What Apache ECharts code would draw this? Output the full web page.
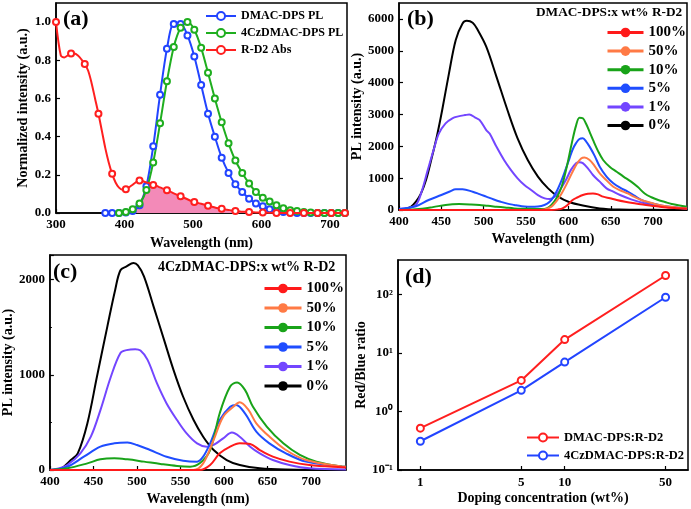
<!DOCTYPE html>
<html><head><meta charset="utf-8">
<script src="https://cdn.jsdelivr.net/npm/echarts@6/dist/echarts.min.js"></script>
<style>html,body{margin:0;padding:0;background:#fff}#c{width:691px;height:509px}</style>
</head><body><div id="c"></div>
<script>
// ---------- Panel (a) ----------
const aBlueX = [372,382,392,402,412,422,432,442,452,462,472,482,492,502,512,522,532,542,552,562,572,582,592,602,612,622,632,642,652,662,672,682,692,702,712,722];
const aBlueY = [0,0,0,0.003,0.01,0.04,0.14,0.35,0.62,0.86,0.99,0.99,0.93,0.82,0.67,0.52,0.40,0.29,0.21,0.15,0.11,0.075,0.05,0.035,0.02,0.01,0.005,0.002,0,0,0,0,0,0,0,0];
const aGreenX = [392,402,412,422,432,442,452,462,472,482,492,502,512,522,532,542,552,562,572,582,592,602,612,622,632,642,652,662,672,682,692,702,712,722];
const aGreenY = [0,0.005,0.02,0.05,0.12,0.265,0.47,0.69,0.87,0.97,1.0,0.96,0.865,0.735,0.60,0.475,0.365,0.275,0.21,0.155,0.11,0.08,0.06,0.04,0.025,0.015,0.01,0.005,0.003,0,0,0,0,0];
const aRedX = [300,307,312,317,322,327,332,337,342,347,352,357,362,367,372,377,382,387,392,397,402,407,412,417,422,427,432,437,442,447,452,457,462,467,472,477,482,487,492,497,502,507,512,517,522,527,532,537,542,547,552,557,562,567,572,577,582,587,592,597,602,607,612,617,622,627,632,637,642,647,652,657,662,667,672,677,682,687,692,697,702,707,712,717,722];
const aRedY = [1.0,0.825,0.815,0.825,0.835,0.835,0.825,0.805,0.78,0.745,0.68,0.60,0.52,0.43,0.34,0.265,0.205,0.16,0.133,0.122,0.125,0.135,0.148,0.162,0.17,0.166,0.16,0.155,0.147,0.142,0.134,0.127,0.119,0.112,0.103,0.095,0.088,0.08,0.072,0.064,0.058,0.053,0.048,0.043,0.038,0.034,0.029,0.025,0.022,0.019,0.016,0.013,0.011,0.009,0.007,0.006,0.005,0.004,0.003,0.003,0.002,0.002,0.001,0.001,0,0,0,0,0,0,0,0,0,0,0,0,0,0,0,0,0,0,0,0,0];
const aFillX = [408,413,418,423,428,432,440,450,460,470,480,490,500,510,520,530,540,550,560,570,580,600,620];
const aFillY = [0,0.01,0.03,0.06,0.11,0.155,0.148,0.135,0.12,0.105,0.09,0.075,0.06,0.05,0.04,0.03,0.023,0.017,0.012,0.008,0.005,0.003,0];

// ---------- Panel (b) ----------
const bNames = ['100%','50%','10%','5%','1%','0%'];
const b100X = [400,580,588,593,599,605,611,617,623,629,635,641,649,657,667,678,688,698,710,725,740];
const b100Y = [0,0,20,50,160,315,400,470,510,520,490,420,370,315,260,210,170,135,95,60,40];
const b50X = [400,560,572,580,586,592,598,604,610,615,619,625,631,637,645,653,661,670,678,686,694,702,715,740];
const b50Y = [0,0,20,105,280,520,820,1150,1450,1620,1650,1570,1380,1150,930,730,620,520,410,315,250,190,120,50];
const b10X = [400,420,440,455,471,485,495,505,515,525,536,550,568,575,580,586,592,598,604,609,613,617,621,625,629,635,641,649,657,665,674,682,690,698,706,714,722,740];
const b10Y = [0,20,90,160,185,175,160,130,105,80,50,40,30,60,160,380,730,1350,2100,2650,2900,2880,2700,2450,2200,1850,1570,1350,1200,1050,890,720,520,400,315,250,190,100];
const b5X = [400,420,435,450,460,467,475,487,495,503,512,520,528,536,545,552,560,568,575,580,586,592,597,601,605,609,613,617,621,625,631,637,645,653,661,670,678,686,694,702,715,740];
const b5Y = [30,120,315,470,580,650,650,575,500,420,330,260,200,160,120,105,100,125,200,315,580,940,1300,1600,1900,2100,2230,2250,2150,1990,1700,1360,1050,840,700,580,450,315,240,190,120,50];
const b1X = [400,410,420,427,434,441,447,455,463,470,478,483,490,495,503,507,515,524,532,540,548,556,564,572,578,584,590,597,603,609,613,617,623,629,637,645,653,661,674,690,706,730,740];
const b1Y = [30,60,160,600,1260,1900,2400,2720,2880,2940,2980,3000,2900,2830,2510,2400,1990,1570,1260,995,785,628,470,365,345,420,630,940,1260,1470,1500,1470,1310,1100,890,680,575,470,335,210,125,63,45];
const b0X = [400,405,414,420,426,432,438,445,451,459,467,475,480,487,493,503,515,528,540,552,564,576,588,600,617,637,660,700,740];
const b0Y = [0,20,100,260,520,950,1570,2350,3140,4290,5340,5860,5940,5880,5650,5130,4190,3140,2250,1570,1050,680,420,260,140,50,15,5,0];

// ---------- Panel (c) ----------
const c100X = [400,572,584,595,607,618,630,641,656,675,698,736,740];
const c100Y = [0,0,53,175,246,281,274,210,140,88,53,28,27];
const c50X = [400,565,576,588,599,611,618,628,637,652,671,694,736,740];
const c50Y = [0,0,70,316,561,667,712,632,491,351,210,105,35,33];
const c10X = [400,420,443,458,474,489,508,527,546,561,572,584,595,607,615,624,633,649,668,687,706,736,740];
const c10Y = [0,18,70,112,123,112,88,63,42,35,70,210,597,877,920,842,667,456,280,158,88,35,33];
const c5X = [400,420,439,458,474,489,500,515,534,553,569,576,584,595,607,614,624,637,652,671,694,736,740];
const c5Y = [0,35,140,245,280,288,263,210,140,98,88,140,280,525,665,684,595,403,280,175,88,35,33];
const c1X = [400,410,420,435,447,458,470,481,488,498,504,512,523,534,546,557,569,580,588,599,609,618,630,641,656,675,698,740];
const c1Y = [0,15,53,175,350,630,980,1230,1260,1270,1255,1160,910,700,525,385,280,245,263,333,393,350,245,175,105,53,18,5];
const c0X = [400,413,424,432,443,454,466,475,481,488,496,501,508,519,531,542,553,565,576,588,603,618,641,670,740];
const c0Y = [0,18,105,175,490,980,1510,1895,2100,2140,2175,2150,2035,1720,1370,1050,770,525,350,210,105,53,18,5,0];

// ---------- Panel (d) ----------
const dConc = [1,5,10,50];
const dDMAC = [0.52,3.4,17,212];
const d4Cz = [0.31,2.3,7.0,90];
const dXTicks = [1,5,10,50];

const FONT = "'Liberation Serif','Times New Roman',serif";
const zip = (xs, ys) => xs.map((x,i)=>[x, ys[i]]);
const txt = (size) => ({fontFamily: FONT, fontWeight: 'bold', fontSize: size, color: '#000'});

const colB = {'100%':'#ff1a1a','50%':'#ff7a45','10%':'#19a319','5%':'#1f4dff','1%':'#7346ff','0%':'#000000'};

function valAxis(gi, min, max, interval, name, gap, extra) {
  return Object.assign({
    type: 'value', gridIndex: gi, min, max, interval,
    name, nameLocation: 'middle', nameGap: gap, nameTextStyle: txt(14),
    axisLine: {show: true, lineStyle: {color: '#000', width: 1.5}},
    axisTick: {show: true, inside: true, length: 4, lineStyle: {color: '#000', width: 1.2}},
    axisLabel: Object.assign(txt(13), {showMaxLabel: false, margin: 5, formatter: v => String(v)}),
    splitLine: {show: false}
  }, extra || {});
}

const grids = [
  {left: 56, top: 3, width: 291, height: 210},
  {left: 399, top: 3, width: 288, height: 207},
  {left: 49, top: 255, width: 297, height: 215},
  {left: 398, top: 260, width: 290, height: 210}
].map(g => Object.assign({show: true, borderColor: '#000', borderWidth: 1.5, backgroundColor: 'transparent'}, g));

const xAxes = [
  valAxis(0, 300, 725, 100, 'Wavelength (nm)', 23),
  valAxis(1, 400, 740, 50, 'Wavelength (nm)', 22),
  valAxis(2, 400, 740, 50, 'Wavelength (nm)', 22),
  {
    type: 'log', gridIndex: 3, logBase: 10, min: 0.7, max: 71.5,
    name: 'Doping concentration (wt%)', nameLocation: 'middle', nameGap: 21, nameTextStyle: txt(14),
    axisLine: {show: true, lineStyle: {color: '#000', width: 1.5}},
    axisTick: {show: true, inside: true, length: 4, customValues: dXTicks, lineStyle: {color: '#000', width: 1.2}},
    axisLabel: Object.assign(txt(13), {customValues: dXTicks, margin: 6}),
    splitLine: {show: false}
  }
];
const supMap = {'-':'\u207B','0':'\u2070','1':'\u00B9','2':'\u00B2','3':'\u00B3'};
const yAxes = [
  valAxis(0, 0, 1.1, 0.2, 'Normalized intensity (a.u.)', 26, {axisLabel: Object.assign(txt(13), {showMaxLabel: false, margin: 5, formatter: v => v.toFixed(1)})}),
  valAxis(1, 0, 6500, 1000, 'PL intensity (a.u.)', 28),
  valAxis(2, 0, 2260, 1000, 'PL intensity (a.u.)', 32, {minorTick: {show: true, splitNumber: 2, length: 2, lineStyle: {color: '#000'}}}),
  {
    type: 'log', gridIndex: 3, logBase: 10, min: 0.1, max: 390, interval: 1,
    name: 'Red/Blue ratio', nameLocation: 'middle', nameGap: 25, nameTextStyle: txt(14),
    axisLine: {show: true, lineStyle: {color: '#000', width: 1.5}},
    axisTick: {show: true, inside: true, length: 4, lineStyle: {color: '#000', width: 1.2}},
    axisLabel: Object.assign(txt(13), {showMaxLabel: false, margin: 5, formatter: v => {
      const e = String(Math.round(Math.log10(v)));
      return '10' + e.split('').map(ch => supMap[ch]).join('');
    }}),
    splitLine: {show: false}
  }
];

const series = [];
// (a)
series.push({name: 'overlap', type: 'line', xAxisIndex: 0, yAxisIndex: 0, data: zip(aFillX, aFillY), symbol: 'none', smooth: 0.3,
  lineStyle: {width: 0}, areaStyle: {color: '#f38ab8', opacity: 1}, z: 1, silent: true});
series.push({name: 'DMAC-DPS PL', type: 'line', xAxisIndex: 0, yAxisIndex: 0, data: zip(aBlueX, aBlueY), smooth: 0.3,
  symbol: 'emptyCircle', symbolSize: 6, color: '#2244ff', lineStyle: {width: 2}, itemStyle: {borderWidth: 1.5}, z: 3});
series.push({name: '4CzDMAC-DPS PL', type: 'line', xAxisIndex: 0, yAxisIndex: 0, data: zip(aGreenX, aGreenY), smooth: 0.3,
  symbol: 'emptyCircle', symbolSize: 6, color: '#1fae1f', lineStyle: {width: 2}, itemStyle: {borderWidth: 1.5}, z: 3});
series.push({name: 'R-D2 Abs', type: 'line', xAxisIndex: 0, yAxisIndex: 0, smooth: 0.3,
  data: aRedX.map((x,i) => ({value: [x, aRedY[i]], symbol: i % 4 === 0 ? 'emptyCircle' : 'none'})),
  symbol: 'emptyCircle', symbolSize: 6, showAllSymbol: true, color: '#ff1f1f', lineStyle: {width: 2}, itemStyle: {borderWidth: 1.5}, z: 4});
// (b) and (c)
const bData = {'100%':[b100X,b100Y],'50%':[b50X,b50Y],'10%':[b10X,b10Y],'5%':[b5X,b5Y],'1%':[b1X,b1Y],'0%':[b0X,b0Y]};
const cData = {'100%':[c100X,c100Y],'50%':[c50X,c50Y],'10%':[c10X,c10Y],'5%':[c5X,c5Y],'1%':[c1X,c1Y],'0%':[c0X,c0Y]};
bNames.slice().reverse().forEach(n => {
  series.push({name: n, type: 'line', xAxisIndex: 1, yAxisIndex: 1, data: zip(bData[n][0], bData[n][1]), smooth: 0.35,
    symbol: 'none', color: colB[n], lineStyle: {width: 2}});
});
bNames.slice().reverse().forEach(n => {
  series.push({name: n, type: 'line', xAxisIndex: 2, yAxisIndex: 2, data: zip(cData[n][0], cData[n][1]), smooth: 0.35,
    symbol: 'none', color: colB[n], lineStyle: {width: 2}});
});
// (d)
series.push({name: 'DMAC-DPS:R-D2', type: 'line', xAxisIndex: 3, yAxisIndex: 3, data: zip(dConc, dDMAC),
  symbol: 'emptyCircle', symbolSize: 7, color: '#ff1f1f', lineStyle: {width: 2}, itemStyle: {borderWidth: 1.5}});
series.push({name: '4CzDMAC-DPS:R-D2', type: 'line', xAxisIndex: 3, yAxisIndex: 3, data: zip(dConc, d4Cz),
  symbol: 'emptyCircle', symbolSize: 7, color: '#2244ff', lineStyle: {width: 2}, itemStyle: {borderWidth: 1.5}});

const legends = [
  {orient: 'vertical', left: 205, top: 10, itemWidth: 30, itemHeight: 10, itemGap: 5, padding: 0,
   data: ['DMAC-DPS PL','4CzDMAC-DPS PL','R-D2 Abs'], textStyle: txt(12)},
  {orient: 'vertical', left: 606, top: 25, itemWidth: 36, itemHeight: 12, itemGap: 3.6, padding: 0,
   data: bNames, textStyle: txt(15), lineStyle: {width: 3}},
  {orient: 'vertical', left: 263, top: 281, itemWidth: 37, itemHeight: 12, itemGap: 4.5, padding: 0,
   data: bNames, textStyle: txt(15), lineStyle: {width: 3}},
  {orient: 'vertical', left: 526, top: 431, itemWidth: 32, itemHeight: 10, itemGap: 5, padding: 0,
   data: ['DMAC-DPS:R-D2','4CzDMAC-DPS:R-D2'], textStyle: txt(12.5)}
];

const titles = [
  {text: '(a)', left: 63, top: 8, padding: 0, textStyle: txt(22)},
  {text: '(b)', left: 407, top: 8, padding: 0, textStyle: txt(22)},
  {text: '(c)', left: 53, top: 261, padding: 0, textStyle: txt(22)},
  {text: '(d)', left: 405, top: 266, padding: 0, textStyle: txt(22)},
  {text: 'DMAC-DPS:x wt% R-D2', left: 536, top: 6, padding: 0, textStyle: txt(13.3)},
  {text: '4CzDMAC-DPS:x wt% R-D2', left: 158, top: 260, padding: 0, textStyle: txt(14)}
];

const chart = echarts.init(document.getElementById('c'), null, {renderer: 'canvas'});
chart.setOption({
  animation: false,
  backgroundColor: '#fff',
  title: titles,
  legend: legends,
  grid: grids,
  xAxis: xAxes,
  yAxis: yAxes,
  series: series
});
</script></body></html>
